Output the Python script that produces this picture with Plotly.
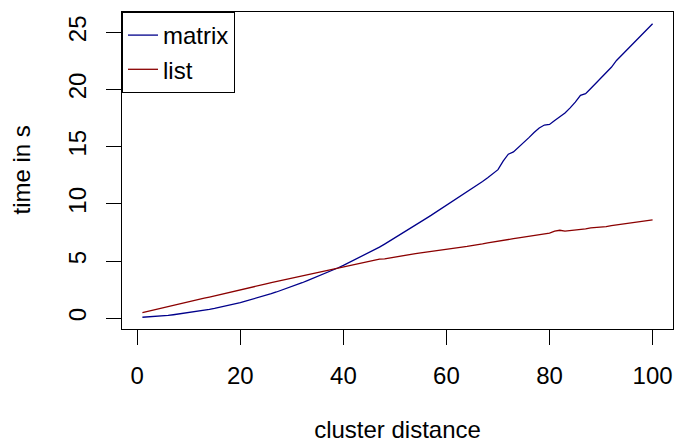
import plotly.graph_objects as go

cluster_distance = list(range(1, 101))

matrix_time = [
    0.09, 0.11, 0.14, 0.17, 0.21, 0.25, 0.31, 0.37, 0.43, 0.50,
    0.56, 0.63, 0.70, 0.78, 0.87, 0.96, 1.06, 1.16, 1.27, 1.38,
    1.50, 1.62, 1.74, 1.87, 2.01, 2.15, 2.30, 2.45, 2.61, 2.77,
    2.94, 3.11, 3.29, 3.47, 3.66, 3.85, 4.03, 4.22, 4.42, 4.63,
    4.85, 5.07, 5.30, 5.53, 5.76, 5.99, 6.22, 6.49, 6.76, 7.03,
    7.30, 7.58, 7.86, 8.15, 8.43, 8.72, 9.00, 9.29, 9.58, 9.87,
    10.16, 10.45, 10.75, 11.05, 11.35, 11.66, 11.97, 12.30, 12.62, 13.00,
    13.75, 14.35, 14.55, 14.95, 15.40, 15.80, 16.25, 16.65, 16.90, 16.95,
    17.30, 17.65, 17.95, 18.40, 18.90, 19.50, 19.65, 20.10, 20.55, 21.00,
    21.45, 21.95, 22.55, 23.00, 23.45, 23.90, 24.35, 24.85, 25.30, 25.76,
]

list_time = [
    0.50, 0.61, 0.71, 0.82, 0.92, 1.03, 1.13, 1.24, 1.34, 1.45,
    1.55, 1.66, 1.76, 1.86, 1.97, 2.07, 2.18, 2.28, 2.39, 2.49,
    2.60, 2.70, 2.81, 2.91, 3.01, 3.11, 3.21, 3.31, 3.41, 3.50,
    3.60, 3.70, 3.80, 3.90, 3.99, 4.09, 4.19, 4.29, 4.39, 4.48,
    4.58, 4.68, 4.78, 4.88, 5.00, 5.10, 5.17, 5.20, 5.28, 5.36,
    5.48, 5.56, 5.60, 5.66, 5.73, 5.80, 5.86, 5.92, 5.98, 6.04,
    6.10, 6.16, 6.23, 6.29, 6.35, 6.42, 6.50, 6.60, 6.66, 6.72,
    6.80, 6.88, 6.96, 7.04, 7.10, 7.18, 7.27, 7.33, 7.38, 7.44,
    7.62, 7.70, 7.62, 7.66, 7.72, 7.76, 7.82, 7.90, 7.93, 7.96,
    8.02, 8.10, 8.16, 8.22, 8.28, 8.35, 8.42, 8.48, 8.55, 8.61,
]

x_ticks = [0, 20, 40, 60, 80, 100]
y_ticks = [0, 5, 10, 15, 20, 25]

# R-style 4% axis extension
xmin, xmax = min(cluster_distance), max(cluster_distance)
all_y = matrix_time + list_time
ymin, ymax = min(all_y), max(all_y)
xpad = 0.04 * (xmax - xmin)
ypad = 0.04 * (ymax - ymin)

FONT = "Liberation Sans, Arial, Helvetica, sans-serif"
FS = 24

W, H, L, R, T, B = 674, 443, 122, 1, 12, 114
pw = W - L - R

fig = go.Figure()
fig.add_trace(go.Scatter(x=cluster_distance, y=matrix_time, mode="lines",
                         name="matrix", line=dict(color="#00008B", width=1.3)))
fig.add_trace(go.Scatter(x=cluster_distance, y=list_time, mode="lines",
                         name="list", line=dict(color="#8B0000", width=1.3)))

axis_common = dict(showline=True, mirror=True, linecolor="black", linewidth=1,
                   ticks="outside", ticklen=15, tickcolor="black", tickwidth=1,
                   showgrid=False, zeroline=False, automargin=False,
                   tickfont=dict(family=FONT, size=FS, color="black"))

fig.update_xaxes(range=[xmin - xpad, xmax + xpad], tickvals=x_ticks,
                 ticktext=[str(v) for v in x_ticks], ticklabelstandoff=10,
                 title=dict(text="cluster distance", standoff=38,
                            font=dict(family=FONT, size=FS, color="black")),
                 **axis_common)
fig.update_yaxes(range=[ymin - ypad, ymax + ypad], tickvals=y_ticks,
                 ticktext=[str(v) for v in y_ticks], tickangle=-90,
                 ticklabelstandoff=10, **axis_common)

# y-axis title, placed as in the R original (outer left margin)
fig.add_annotation(text="time in s", textangle=-90, showarrow=False,
                   xref="paper", yref="paper", x=(21 - L) / pw, y=0.5,
                   xanchor="center", yanchor="middle",
                   font=dict(family=FONT, size=FS, color="black"))

fig.update_layout(
    width=W, height=H,
    margin=dict(l=L, r=R, t=T, b=B),
    paper_bgcolor="white", plot_bgcolor="white",
    font=dict(family=FONT, size=FS, color="black"),
    legend=dict(x=0, y=1, xanchor="left", yanchor="top",
                bordercolor="black", borderwidth=1, bgcolor="white",
                font=dict(family=FONT, size=FS, color="black"),
                itemwidth=30, tracegroupgap=0),
    showlegend=True,
)

fig.write_html("out.html", config={"displayModeBar": False},
               post_script="document.body.style.margin='0';")
